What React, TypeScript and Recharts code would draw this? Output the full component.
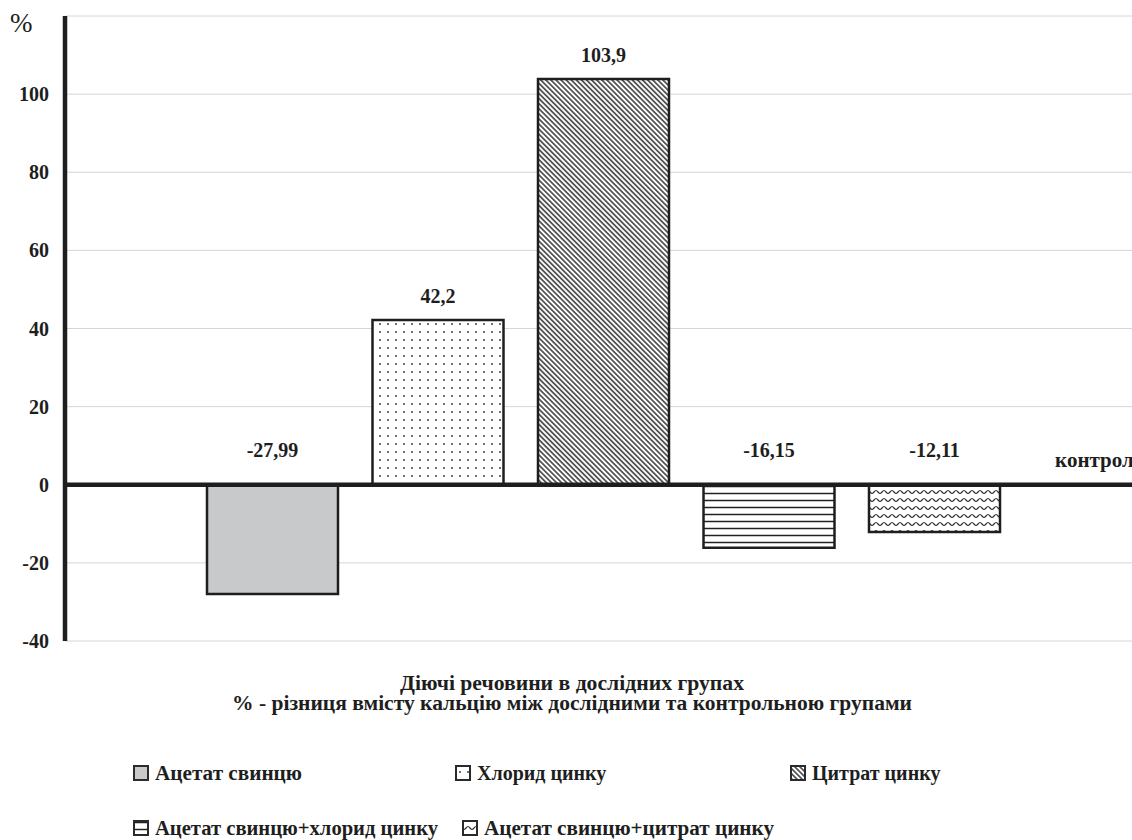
import React from "react"
import { BarChart, Bar, XAxis, YAxis, CartesianGrid, ReferenceLine } from "recharts"

// one group, every substance is its own series; "контроль" is the zero baseline series
const seriesNames = [
  "Ацетат свинцю",
  "Хлорид цинку",
  "Цитрат цинку",
  "Ацетат свинцю+хлорид цинку",
  "Ацетат свинцю+цитрат цинку",
  "контроль",
]
const seriesValues = [-27.99, 42.2, 103.9, -16.15, -12.11, 0]
const seriesFills = ["#c8c9cb", "url(#dots)", "url(#diag)", "url(#hlines)", "url(#waves)", "none"]
const yTicks = [-40, -20, 0, 20, 40, 60, 80, 100, 120]
const xTitle = "Діючі речовини в дослідних групах"
const xSubtitle = "% - різниця вмісту кальцію між дослідними та контрольною групами"

const data = [
  seriesValues.reduce<Record<string, number | string>>(
    (row, v, i) => {
      row[`s${i}`] = v
      return row
    },
    { group: "" }
  ),
]

// legend placement copied from the Excel layout (icon left, row middle, text width)
const legendSpots = [
  { left: 133, mid: 773, w: 147 },
  { left: 455, mid: 773, w: 0 },
  { left: 790, mid: 773, w: 0 },
  { left: 133, mid: 828, w: 283 },
  { left: 462, mid: 828, w: 290 },
]

const FONT = "Liberation Serif"
const INK = "#1e1e1e"
const BOLD = { fontFamily: FONT, fontWeight: 700, fill: INK } as const
const CONTROL = seriesNames.length - 1

function Patterns() {
  return (
    <defs>
      <pattern id="dots" width="8" height="8" patternUnits="userSpaceOnUse">
        <rect width="8" height="8" fill="#fff" />
        <circle cx="4" cy="4" r="1" fill="#444" />
      </pattern>
      <pattern id="diag" width="3.6" height="3.6" patternUnits="userSpaceOnUse" patternTransform="rotate(-45)">
        <rect width="3.6" height="3.6" fill="#fff" />
        <line x1="1.8" y1="0" x2="1.8" y2="3.6" stroke="#333" strokeWidth="1.5" />
      </pattern>
      <pattern id="hlines" width="8" height="7" patternUnits="userSpaceOnUse">
        <rect width="8" height="7" fill="#fff" />
        <line x1="0" y1="3.5" x2="8" y2="3.5" stroke="#222" strokeWidth="1.5" />
      </pattern>
      <pattern id="waves" width="8" height="8" patternUnits="userSpaceOnUse">
        <rect width="8" height="8" fill="#fff" />
        <path d="M0 5.5 C1.5 5.5 2.5 2.5 4 2.5 C5.5 2.5 6.5 5.5 8 5.5" fill="none" stroke="#333" strokeWidth="1.2" />
      </pattern>
    </defs>
  )
}

function YTick(props: any) {
  const { y, payload } = props
  if (payload.value === 120) {
    return (
      <text x={10} y={y + 10} fontSize={27} fill={INK} dominantBaseline="middle" style={{ fontFamily: FONT }}>
        %
      </text>
    )
  }
  return (
    <text x={49} y={y} dy="0.35em" textAnchor="end" fontSize={20} style={BOLD}>
      {payload.value}
    </text>
  )
}

const makeLabel = (i: number) => (props: any) => {
  const { x, y, width, height, value } = props
  const top = Math.min(y, y + height)
  const text = i === CONTROL ? seriesNames[i] : String(value).replace(".", ",")
  return (
    <text
      x={x + width / 2}
      y={top - (value < 0 ? 35 : 24)}
      dy="0.35em"
      textAnchor="middle"
      fontSize={i === CONTROL ? 21 : 20}
      style={BOLD}
    >
      {text}
    </text>
  )
}

export default function App() {
  return (
    <div
      style={{
        position: "absolute",
        left: 0,
        top: 0,
        width: 1132,
        height: 840,
        overflow: "hidden",
        background: "#fff",
        fontFamily: FONT,
        color: INK,
      }}
    >
      <BarChart width={1308} height={660} data={data} margin={{ top: 16, right: 0, bottom: 19, left: 0 }} barSize={131} barGap={34.5}>
        <Patterns />
        <CartesianGrid vertical={false} stroke="#d6d6d6" />
        <XAxis dataKey="group" hide />
        <YAxis
          width={65}
          domain={[-40, 120]}
          ticks={yTicks}
          interval={0}
          tickLine={false}
          axisLine={{ stroke: INK, strokeWidth: 4.5 }}
          tick={<YTick />}
        />
        {seriesNames.map((name, i) => (
          <Bar
            key={name}
            dataKey={`s${i}`}
            name={name}
            fill={seriesFills[i]}
            stroke={i === CONTROL ? "none" : INK}
            strokeWidth={2.5}
            minPointSize={i === CONTROL ? 1 : 0}
            isAnimationActive={false}
            label={makeLabel(i)}
          />
        ))}
        <ReferenceLine y={0} stroke={INK} strokeWidth={4.5} />
      </BarChart>

      {/* axis titles and legend, laid over the chart */}
      <svg width={1132} height={840} style={{ position: "absolute", left: 0, top: 0, pointerEvents: "none" }}>
        <text x={572} y={683} dy="0.35em" textAnchor="middle" fontSize={20} textLength={344} lengthAdjust="spacingAndGlyphs" style={BOLD}>
          {xTitle}
        </text>
        <text x={572} y={703} dy="0.35em" textAnchor="middle" fontSize={20} textLength={680} lengthAdjust="spacingAndGlyphs" style={BOLD}>
          {xSubtitle}
        </text>
        {legendSpots.map((spot, i) => (
          <g key={seriesNames[i]}>
            <rect x={spot.left + 1} y={spot.mid - 7} width={14} height={14} fill={seriesFills[i]} stroke="#2a2a2a" strokeWidth={2} />
            <text
              x={spot.left + 22}
              y={spot.mid}
              dy="0.35em"
              fontSize={20}
              textLength={spot.w || undefined}
              lengthAdjust="spacingAndGlyphs"
              style={BOLD}
            >
              {seriesNames[i]}
            </text>
          </g>
        ))}
      </svg>
    </div>
  )
}
